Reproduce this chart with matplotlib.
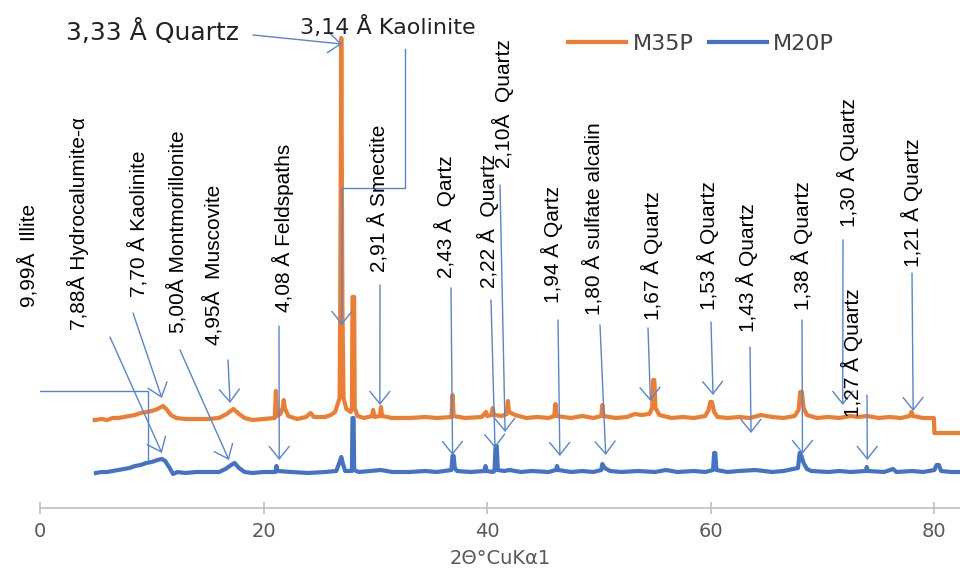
import matplotlib.pyplot as plt

# --- data: (2theta in degrees, intensity in plot units; M35P is drawn with an offset) ---
m35p = [(4.9, 88), (5.5, 89), (6.0, 88), (6.5, 90), (7.0, 90), (7.5, 91), (8.0, 92), (8.5, 93),
        (9.0, 95), (9.5, 96), (10.0, 97), (10.5, 99), (11.0, 102), (11.3, 99), (11.7, 93),
        (12.2, 90), (13.0, 89), (14.0, 89), (15.0, 89), (16.0, 90), (16.7, 94), (17.3, 99),
        (17.8, 94), (18.3, 90), (19.0, 88), (20.0, 89), (21.0, 90), (21.1, 117), (21.2, 92),
        (21.5, 94), (21.7, 100), (21.8, 108), (21.9, 100), (22.2, 92), (23.0, 89), (23.8, 91),
        (24.2, 95), (24.5, 91), (25.5, 91), (26.0, 93), (26.4, 96), (26.6, 103), (26.8, 110),
        (26.85, 200), (26.95, 470), (27.05, 200), (27.15, 110), (27.4, 99), (27.8, 96),
        (27.9, 100), (27.95, 211), (28.1, 211), (28.15, 100), (28.4, 92), (29.0, 90),
        (29.7, 92), (29.8, 98), (29.9, 91), (30.4, 92), (30.5, 101), (30.6, 92), (31.5, 90),
        (33.0, 90), (34.5, 91), (35.5, 90), (36.8, 91), (36.9, 113), (37.0, 92), (38.0, 90),
        (39.5, 91), (39.9, 96), (40.0, 92), (40.4, 93), (40.5, 100), (40.6, 93), (41.3, 92),
        (41.75, 94), (41.85, 107), (41.95, 96), (42.5, 93), (43.5, 90), (44.5, 91), (45.5, 90),
        (46.0, 92), (46.1, 104), (46.2, 92), (47.5, 90), (48.5, 92), (49.5, 90), (50.2, 92),
        (50.3, 103), (50.4, 92), (51.5, 90), (52.5, 91), (53.2, 94), (53.8, 93), (54.5, 94),
        (54.75, 100), (54.85, 128), (54.95, 128), (55.05, 100), (55.4, 93), (56.5, 90),
        (57.5, 91), (58.5, 90), (59.5, 92), (59.8, 98), (59.95, 106), (60.1, 106), (60.3, 96),
        (60.6, 91), (61.5, 90), (62.5, 91), (63.5, 90), (64.5, 93), (65.5, 91), (66.5, 90),
        (67.5, 92), (67.85, 98), (68.0, 116), (68.15, 116), (68.3, 100), (68.6, 93), (69.5, 90),
        (70.5, 91), (71.5, 90), (72.5, 92), (73.2, 91), (74.0, 92), (75.0, 90), (76.0, 91),
        (77.0, 90), (77.8, 92), (77.95, 96), (78.1, 92), (79.0, 90), (79.95, 90), (80.0, 75),
        (82.3, 75)]

m20p = [(5.0, 35), (5.5, 36), (6.0, 36), (6.5, 37), (7.0, 38), (7.5, 39), (8.0, 40), (8.5, 42),
        (9.0, 43), (9.5, 45), (10.0, 46), (10.5, 48), (10.9, 49), (11.2, 47), (11.6, 40),
        (11.9, 34), (12.3, 36), (13.0, 35), (14.0, 36), (15.0, 36), (16.0, 36), (16.6, 39),
        (17.1, 43), (17.4, 45), (17.8, 40), (18.3, 36), (19.0, 35), (20.0, 36), (21.05, 36),
        (21.15, 42), (21.25, 37), (22.5, 36), (24.0, 35), (25.5, 36), (26.5, 37), (26.8, 46),
        (26.95, 51), (27.1, 44), (27.3, 37), (27.9, 37), (27.95, 90), (28.05, 90), (28.1, 38),
        (28.5, 36), (29.5, 37), (30.5, 38), (31.5, 36), (33.0, 36), (34.5, 37), (35.5, 36),
        (36.8, 38), (36.9, 52), (37.0, 52), (37.1, 40), (37.3, 37), (38.5, 36), (39.75, 37),
        (39.85, 42), (39.95, 37), (40.5, 36), (40.65, 37), (40.75, 62), (40.85, 62), (40.95, 38),
        (41.5, 37), (42.0, 38), (43.0, 36), (44.0, 37), (45.5, 36), (46.15, 38), (46.25, 42),
        (46.35, 38), (47.5, 36), (48.5, 37), (49.5, 36), (50.2, 38), (50.3, 44), (50.5, 40),
        (51.0, 37), (52.0, 36), (53.5, 37), (55.0, 36), (56.0, 38), (57.0, 36), (58.5, 37),
        (59.5, 36), (60.2, 38), (60.3, 55), (60.4, 55), (60.5, 38), (61.5, 36), (62.5, 37),
        (64.0, 38), (65.5, 36), (66.5, 37), (67.8, 40), (67.95, 55), (68.1, 52), (68.3, 45),
        (68.6, 39), (69.0, 37), (70.5, 36), (71.5, 37), (72.5, 36), (73.85, 37), (73.95, 41),
        (74.05, 37), (75.5, 36), (76.3, 39), (76.6, 36), (78.0, 37), (79.0, 36), (80.0, 38),
        (80.2, 43), (80.4, 43), (80.6, 37), (81.5, 36), (82.3, 36)]

# vertical labels: text, text centre x (px), text bottom (px), arrow start (px), peak 2theta, arrow tip y (px)
labels = [
    ("7,88Å Hydrocalumite-α", 78, 330, (110, 337), 10.9, 453),
    ("7,70 Å Kaolinite", 138, 297, (133, 313), 10.9, 398),
    ("5,00Å Montmorillonite", 177, 333, (180, 350), 16.9, 460),
    ("4,95Å  Muscovite", 213, 345, (228, 360), 17.0, 403),
    ("4,08 Å Feldspaths", 283, 312, (279, 326), 21.4, 460),
    ("2,91 Å Smectite", 378, 272, (380, 285), 30.4, 405),
    ("2,43 Å  Qartz", 445, 278, (451, 288), 36.9, 455),
    ("2,22 Å  Quartz", 488, 288, (491, 300), 40.7, 448),
    ("2,10Å  Quartz", 503, 168, (500, 185), 41.6, 432),
    ("1,94 Å Qartz", 552, 303, (558, 320), 46.5, 456),
    ("1,80 Å sulfate alcalin", 593, 315, (600, 325), 50.6, 455),
    ("1,67 Å Quartz", 652, 320, (648, 328), 54.6, 401),
    ("1,53 Å Quartz", 708, 310, (711, 322), 60.2, 395),
    ("1,43 Å Quartz", 747, 332, (750, 347), 63.6, 433),
    ("1,38 Å Quartz", 802, 310, (802, 320), 68.2, 454),
    ("1,30 Å Quartz", 848, 227, (843, 240), 71.8, 405),
    ("1,27 Å Quartz", 852, 417, (867, 395), 74.0, 460),
    ("1,21 Å Quartz", 912, 267, (912, 273), 78.1, 411),
]

X0 = 40        # pixel of 2theta = 0
SCALE = 11.18  # pixels per degree
BASE = 508     # pixel row of the x axis

ORANGE = "#ED7D31"
BLUE = "#4472C4"
ARROW = "#5585D5"
LABEL_FONT = ["Liberation Sans", "DejaVu Sans"]


def px(x, y):
    return ((x - X0) / SCALE, BASE - y)


def arrow(ax, start, tip):
    ax.annotate("", xy=tip, xytext=start,
                arrowprops=dict(arrowstyle="->,head_length=0.75,head_width=0.6",
                                mutation_scale=12, color=ARROW, lw=1.0,
                                shrinkA=0, shrinkB=0))


def polyline(ax, pts):
    xs, ys = zip(*[px(*p) for p in pts])
    ax.plot(xs, ys, color=ARROW, lw=1.0)


fig = plt.figure(figsize=(9.6, 5.68), dpi=100)
ax = fig.add_axes([X0 / 960, (568 - BASE) / 568, (960 - X0) / 960, BASE / 568])
ax.set_xlim(0, (960 - X0) / SCALE)
ax.set_ylim(0, BASE)

x35, y35 = zip(*m35p)
x20, y20 = zip(*m20p)
ax.plot(x35, y35, color=ORANGE, lw=3.0, label="M35P")
ax.plot(x20, y20, color=BLUE, lw=3.0, label="M20P")

for text, tx, ty, start, peak, tip_y in labels:
    ax.text(*px(tx, ty), text, rotation=90, ha="center", va="bottom",
            fontsize=15, family=LABEL_FONT, zorder=5)
    arrow(ax, px(*start), (peak, BASE - tip_y))

# 9,99 Å Illite: elbow arrow
ax.text(*px(28, 307), "9,99Å  Illite", rotation=90, ha="center", va="bottom",
        fontsize=15, family=LABEL_FONT)
polyline(ax, [(148, 460), (148, 391), (27, 391)])
arrow(ax, px(27, 391), px(27, 327))

# horizontal labels at the top
ax.text(*px(66, 32), "3,33 Å Quartz", ha="left", va="center", fontsize=18, color="#222222")
arrow(ax, px(253, 35), (27.0, BASE - 44))
ax.text(*px(300, 27), "3,14 Å Kaolinite", ha="left", va="center", fontsize=16, color="#222222")
polyline(ax, [(405, 49), (405, 188), (342, 188)])
arrow(ax, px(342, 188), (27.0, BASE - 325))

for s in ["left", "right", "top"]:
    ax.spines[s].set_visible(False)
ax.spines["bottom"].set_color("#bfbfbf")
ax.spines["bottom"].set_linewidth(1.2)
ax.set_yticks([])
ax.set_xticks([0, 20, 40, 60, 80])
ax.tick_params(axis="x", direction="inout", length=8, width=1.2, color="#bfbfbf",
               labelsize=14, labelcolor="#595959", pad=6)
ax.set_xlabel("2Θ°CuKα1", fontsize=14, color="#595959", labelpad=6)

fig.legend(loc="center left", bbox_to_anchor=(568 / 960, 1 - 44 / 568), ncol=2,
           frameon=False, fontsize=16, handlelength=2.6, handletextpad=0.3,
           columnspacing=0.7, borderpad=0, borderaxespad=0, labelcolor="#404040")

fig.savefig("out.png", dpi=100)
